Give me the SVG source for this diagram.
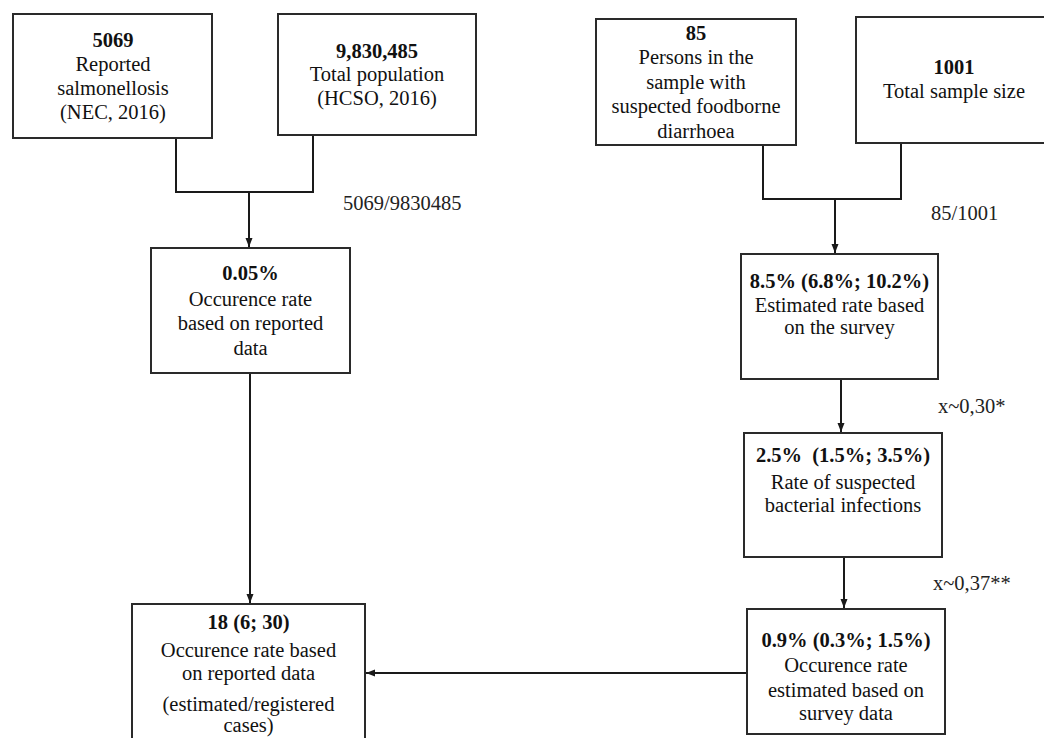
<svg xmlns="http://www.w3.org/2000/svg" width="1044" height="738" viewBox="0 0 1044 738">
<style>
.box{fill:#fff;stroke:#2a2a2a;stroke-width:2}
.t{font-family:"Liberation Serif","Times New Roman",serif;font-size:20.5px;fill:#111;text-anchor:middle}
.b{font-weight:bold}
.l{font-family:"Liberation Serif","Times New Roman",serif;font-size:20.5px;fill:#222}
.c{fill:none;stroke:#1a1a1a;stroke-width:2}
</style>
<defs>
<marker id="ah" markerUnits="userSpaceOnUse" markerWidth="10" markerHeight="8" refX="9" refY="4" orient="auto">
<path d="M0,0.5 L9,4 L0,7.5 z" fill="#1a1a1a"/>
</marker>
</defs>
<rect width="1044" height="738" fill="#fff"/>
<g id="connectors">
<path class="c" d="M176,138 V192 H313 V135"/>
<path class="c" d="M249,192 V247" marker-end="url(#ah)"/>
<path class="c" d="M250,373 V603" marker-end="url(#ah)"/>
<path class="c" d="M763,145 V199 H901 V143"/>
<path class="c" d="M835,199 V253" marker-end="url(#ah)"/>
<path class="c" d="M841,379 V432" marker-end="url(#ah)"/>
<path class="c" d="M844,557 V608" marker-end="url(#ah)"/>
<path class="c" d="M747,673 H366" marker-end="url(#ah)"/>
</g>
<g id="labels">
<text class="l" x="343" y="210">5069/9830485</text>
<text class="l" x="931" y="220">85/1001</text>
<text class="l" x="938" y="413">x~0,30*</text>
<text class="l" x="933" y="590">x~0,37**</text>
</g>
<g id="n-reported">
<rect class="box" x="13" y="14" width="199" height="124"/>
<text class="t b" x="113" y="47">5069</text>
<text class="t" x="113" y="71">Reported</text>
<text class="t" x="113" y="95">salmonellosis</text>
<text class="t" x="113" y="119">(NEC, 2016)</text>
</g>
<g id="n-population">
<rect class="box" x="278" y="14" width="198" height="121"/>
<text class="t b" x="377" y="58">9,830,485</text>
<text class="t" x="377" y="81">Total population</text>
<text class="t" x="377" y="105">(HCSO, 2016)</text>
</g>
<g id="n-persons">
<rect class="box" x="596" y="19" width="200" height="126"/>
<text class="t b" x="696" y="40">85</text>
<text class="t" x="696" y="64">Persons in the</text>
<text class="t" x="696" y="89">sample with</text>
<text class="t" x="696" y="113">suspected foodborne</text>
<text class="t" x="696" y="138">diarrhoea</text>
</g>
<g id="n-sample">
<rect class="box" x="856" y="17" width="196" height="126"/>
<text class="t b" x="954" y="74">1001</text>
<text class="t" x="954" y="98">Total sample size</text>
</g>
<g id="n-rate-reported">
<rect class="box" x="151" y="248" width="199" height="125"/>
<text class="t b" x="250.5" y="280">0.05%</text>
<text class="t" x="250.5" y="306">Occurence rate</text>
<text class="t" x="250.5" y="330">based on reported</text>
<text class="t" x="250.5" y="355">data</text>
</g>
<g id="n-survey-rate">
<rect class="box" x="741" y="254" width="197" height="125"/>
<text class="t b" x="839.5" y="288">8.5% (6.8%; 10.2%)</text>
<text class="t" x="839.5" y="312">Estimated rate based</text>
<text class="t" x="839.5" y="334">on the survey</text>
</g>
<g id="n-bacterial">
<rect class="box" x="744" y="433" width="198" height="124"/>
<text class="t b" x="843" y="462">2.5%&#160; (1.5%; 3.5%)</text>
<text class="t" x="843" y="489">Rate of suspected</text>
<text class="t" x="843" y="512">bacterial infections</text>
</g>
<g id="n-occurrence-survey">
<rect class="box" x="747" y="609" width="198" height="125"/>
<text class="t b" x="846" y="647">0.9% (0.3%; 1.5%)</text>
<text class="t" x="846" y="672">Occurence rate</text>
<text class="t" x="846" y="697">estimated based on</text>
<text class="t" x="846" y="720">survey data</text>
</g>
<g id="n-multiplier">
<rect class="box" x="132" y="604" width="233" height="140"/>
<text class="t b" x="248.5" y="629">18 (6; 30)</text>
<text class="t" x="248.5" y="657">Occurence rate based</text>
<text class="t" x="248.5" y="680">on reported data</text>
<text class="t" x="248.5" y="711">(estimated/registered</text>
<text class="t" x="248.5" y="732">cases)</text>
</g>
</svg>
